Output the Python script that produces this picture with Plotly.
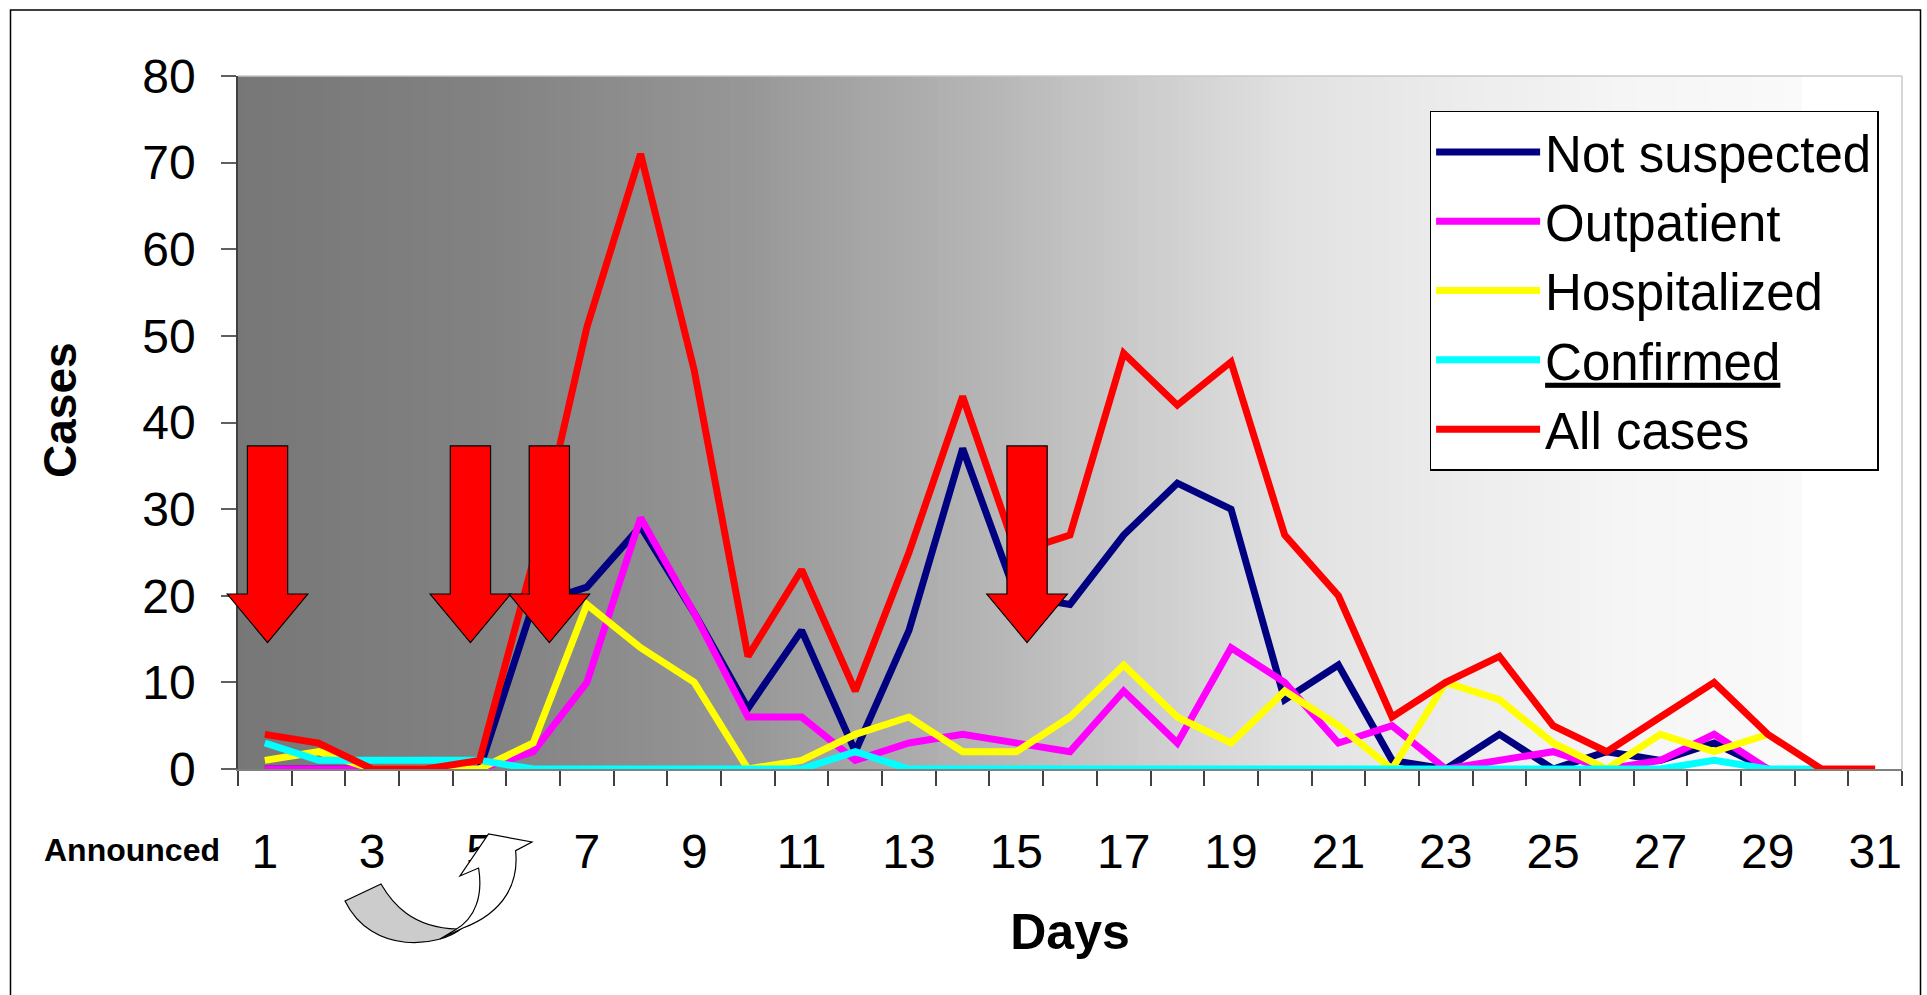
import numpy as np
import plotly.graph_objects as go

# ---------------- data ----------------
days = list(range(1, 32))
not_suspected = [0, 0, 0, 0, 0, 19, 21, 28, 18, 7, 16, 2, 16, 37, 20, 19, 27, 33, 30, 8, 12, 1, 0, 4, 0, 2, 1, 3, 0]
outpatient = [0, 0, 0, 0, 0, 2, 10, 29, 18, 6, 6, 1, 3, 4, 3, 2, 9, 3, 14, 10, 3, 5, 0, 1, 2, 0, 1, 4, 0]
hospitalized = [1, 2, 0, 0, 0, 3, 19, 14, 10, 0, 1, 4, 6, 2, 2, 6, 12, 6, 3, 9, 5, 0, 10, 8, 3, 0, 4, 2, 4]
confirmed = [3, 1, 1, 1, 1, 0, 0, 0, 0, 0, 0, 2, 0, 0, 0, 0, 0, 0, 0, 0, 0, 0, 0, 0, 0, 0, 0, 1, 0, 0]
all_cases = [4, 3, 0, 0, 1, 24, 51, 71, 46, 13, 23, 9, 25, 43, 25, 27, 48, 42, 47, 27, 20, 6, 10, 13, 5, 2, 6, 10, 4, 0, 0]

series_names = ["Not suspected", "Outpatient", "Hospitalized",
                '<span style="text-decoration:underline">Confirmed</span>', "All cases"]
series_values = [not_suspected, outpatient, hospitalized, confirmed, all_cases]
series_colors = ["#000080", "#FF00FF", "#FFFF00", "#00FFFF", "#FF0000"]

x_tick_days = list(range(1, 32, 2))
arrow_days = [1.05, 4.83, 6.3, 15.2]   # announcement arrows (x position in days)
arrow_top, arrow_neck, arrow_tip = 37.3, 20.2, 14.6

# ---------------- geometry helpers ----------------
W, H = 1927, 995
L, R, T, B = 238, 1902, 76, 769
YMAX = 80


def px(x):
    return (x - L) / (R - L)


def py(y):
    return (B - y) / (B - T)


def dx(d):
    return (d - 0.5) / 31.0


def dy(v):
    return v / YMAX


FONT = "Liberation Sans, Arial, sans-serif"

fig = go.Figure()
for name, vals, col in zip(series_names, series_values, series_colors):
    fig.add_trace(go.Scatter(
        x=days[:len(vals)], y=vals, name=name, mode="lines",
        line=dict(color=col, width=7), legendgroup=name,
    ))

shapes = []
# horizontal gray gradient background
stops_f = [0, 0.151, 0.301, 0.458, 0.602, 0.638, 0.716, 0.830, 0.942, 0.9425, 1.0]
stops_g = [119, 130, 150, 183, 218, 226, 234, 245, 250, 255, 255]
N = 200
for i in range(N):
    f0, f1 = i / N, (i + 1) / N
    g = int(round(float(np.interp((f0 + f1) / 2, stops_f, stops_g))))
    shapes.append(dict(type="rect", xref="x domain", yref="y domain", layer="below",
                       x0=f0, x1=min(f1 + 0.002, 1.0), y0=0, y1=1,
                       fillcolor=f"rgb({g},{g},{g})", line=dict(width=0)))
# faint plot-area border on top and right
shapes.append(dict(type="line", xref="paper", yref="paper", x0=0, x1=1, y0=1, y1=1,
                   line=dict(color="#c8c8c8", width=1.5), layer="below"))
shapes.append(dict(type="line", xref="paper", yref="paper", x0=1, x1=1, y0=0, y1=1,
                   line=dict(color="#c8c8c8", width=1.5), layer="below"))

# red block arrows
sw, hw = 0.375, 0.75
for d in arrow_days:
    pts = [(d - sw, arrow_top), (d + sw, arrow_top), (d + sw, arrow_neck), (d + hw, arrow_neck),
           (d, arrow_tip), (d - hw, arrow_neck), (d - sw, arrow_neck)]
    path = "M" + " L".join(f"{dx(a):.5f},{dy(b):.5f}" for a, b in pts) + " Z"
    shapes.append(dict(type="path", xref="paper", yref="paper", path=path, layer="above",
                       fillcolor="#FF0000", line=dict(color="black", width=1.2)))


def P(x, y):
    return f"{px(x):.5f},{py(y):.5f}"


# curved (U-turn) arrow under the axis: gray back part
gray_path = ("M" + P(345, 901) + " L" + P(381, 884) +
             " C" + P(392, 903) + " " + P(412, 928) + " " + P(457, 929) +
             " L" + P(462, 928) +
             " C" + P(440, 947) + " " + P(372, 956) + " " + P(345, 901) + " Z")
shapes.append(dict(type="path", xref="paper", yref="paper", path=gray_path, layer="above",
                   fillcolor="#CCCCCC", line=dict(color="black", width=1.2)))
white_path = ("M" + P(455, 930) +
              " C" + P(476, 918) + " " + P(483, 895) + " " + P(478.6, 868) +
              " L" + P(460, 876) + " L" + P(488.5, 834) + " L" + P(532, 842) + " L" + P(515.6, 850.7) +
              " C" + P(519, 882) + " " + P(505, 912) + " " + P(463, 928) +
              " L" + P(440, 939) + " Z")
shapes.append(dict(type="path", xref="paper", yref="paper", path=white_path, layer="above",
                   fillcolor="white", line=dict(color="black", width=1.2)))

# outer frame
shapes.append(dict(type="rect", xref="paper", yref="paper", layer="above",
                   x0=px(10.5), x1=px(1920.5), y0=py(1003), y1=py(10),
                   line=dict(color="black", width=1.5), fillcolor="rgba(0,0,0,0)"))

fig.update_layout(
    width=W, height=H,
    margin=dict(l=L, r=W - R, t=T, b=H - B, pad=0),
    paper_bgcolor="white", plot_bgcolor="white",
    font=dict(family=FONT, color="black", size=48),
    shapes=shapes,
    showlegend=True,
    legend=dict(x=px(1429.6), y=py(110.8), xanchor="left", yanchor="top",
                bgcolor="white", bordercolor="black", borderwidth=1.5,
                font=dict(family=FONT, size=51, color="black"),
                itemwidth=104, tracegroupgap=9, traceorder="normal"),
    annotations=[
        dict(text="<b>Announced</b>", xref="paper", yref="paper",
             x=px(131.5), y=py(850), xanchor="center", yanchor="middle",
             showarrow=False, font=dict(family=FONT, size=32, color="black")),
        dict(text="<b>Cases</b>", xref="paper", yref="paper", textangle=-90,
             x=px(60), y=py(410), xanchor="center", yanchor="middle",
             showarrow=False, font=dict(family=FONT, size=46, color="black")),
    ],
)

fig.update_xaxes(
    range=[0.5, 31.5], tickmode="array", tickvals=x_tick_days,
    ticktext=[str(d) for d in x_tick_days],
    ticks="outside", ticklen=40, tickcolor="rgba(0,0,0,0)",
    tickfont=dict(family=FONT, size=48, color="black"),
    minor=dict(tickmode="linear", tick0=0.5, dtick=1, ticks="outside", ticklen=15,
               tickcolor="#404040", tickwidth=1.5, showgrid=False),
    showline=True, linecolor="#808080", linewidth=1.5,
    showgrid=False, zeroline=False,
    title=dict(text="Days", font=dict(family=FONT, size=50, color="black", weight="bold"), standoff=37),
)
fig.update_yaxes(
    range=[0, YMAX], dtick=10, tick0=0,
    ticks="outside", ticklen=15, tickcolor="#606060", tickwidth=1.5,
    ticklabelstandoff=16,
    tickfont=dict(family=FONT, size=48, color="black"),
    showline=True, linecolor="#404040", linewidth=1.5,
    showgrid=False, zeroline=False,
)

fig.write_html("out.html", config={"displayModeBar": False},
               post_script="document.body.style.margin='0px';")
